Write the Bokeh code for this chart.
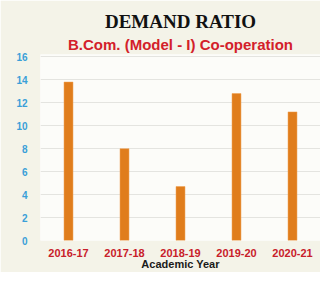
from bokeh.plotting import figure
from bokeh.models import Title, Range1d
from bokeh.embed import file_html
from bokeh.resources import INLINE

years = ["2016-17", "2017-18", "2018-19", "2019-20", "2020-21"]
ratio = [13.8, 8.0, 4.7, 12.8, 11.2]
y_ticks = [0, 2, 4, 6, 8, 10, 12, 14, 16]

p = figure(x_range=years, width=320, height=272, output_backend="svg",
           toolbar_location=None, min_border_left=40, min_border_right=0,
           min_border_top=0, min_border_bottom=0)
p.y_range = Range1d(0, 16.2)

p.vbar(x=years, top=ratio, width=0.16, fill_color="#e07d1c", line_color="#f0a050", line_width=0.5)

p.background_fill_color = "#fcfcf9"
p.border_fill_color = "#f4f3e8"
p.outline_line_color = None

# spacer (outermost)
p.title.text = " "
p.title.text_font_size = "5px"
p.title.standoff = 0

sub = Title(text="B.Com. (Model - I) Co-operation", text_font="Liberation Sans",
            text_font_size="15px", text_font_style="bold", text_color="#d3202a",
            align="center", offset=8, standoff=4)
p.add_layout(sub, "above")

main = Title(text="DEMAND RATIO", text_font="Liberation Serif", text_font_size="19px",
             text_font_style="bold", text_color="#111111", align="center", offset=8, standoff=0)
p.add_layout(main, "above")

p.yaxis.ticker = y_ticks
p.yaxis.axis_line_color = None
p.yaxis.major_tick_line_color = None
p.yaxis.minor_tick_line_color = None
p.yaxis.major_label_text_color = "#3a9fd8"
p.yaxis.major_label_text_font = "Liberation Sans"
p.yaxis.major_label_text_font_style = "bold"
p.yaxis.major_label_text_font_size = "10px"
p.yaxis.major_label_standoff = 7

p.xaxis.axis_line_color = None
p.xaxis.major_tick_line_color = None
p.xaxis.major_label_text_color = "#c8202a"
p.xaxis.major_label_text_font = "Liberation Sans"
p.xaxis.major_label_text_font_style = "bold"
p.xaxis.major_label_text_font_size = "11px"
p.xaxis.major_label_standoff = 2
p.xaxis.axis_label = "Academic Year"
p.xaxis.axis_label_text_font = "Liberation Sans"
p.xaxis.axis_label_text_font_style = "bold"
p.xaxis.axis_label_text_font_size = "11px"
p.xaxis.axis_label_text_color = "#1a1a1a"
p.xaxis.axis_label_standoff = -2

p.xgrid.grid_line_color = None
p.ygrid.grid_line_color = "#e4e4e0"
p.ygrid.grid_line_width = 1

open("out.html", "w").write(file_html(p, INLINE))
